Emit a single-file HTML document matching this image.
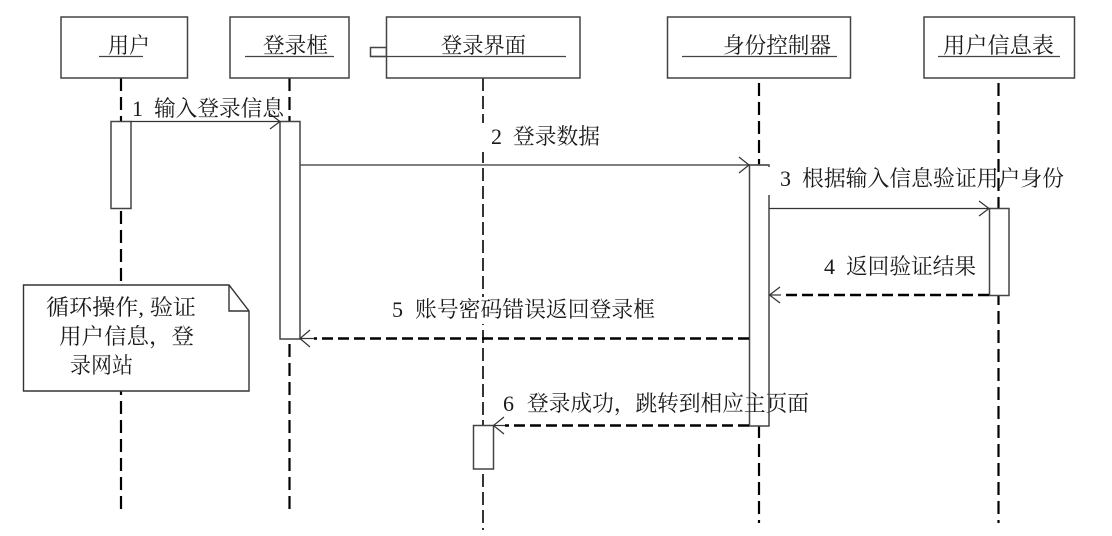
<!DOCTYPE html>
<html>
<head>
<meta charset="utf-8">
<style>
html,body{margin:0;padding:0;background:#fff;width:1112px;height:536px;overflow:hidden}
svg{display:block}
text{font-family:"Liberation Serif","Noto Serif CJK SC",serif;font-size:22px;fill:#1a1a1a}
.b{fill:#fff;stroke:#444;stroke-width:1.5}
.l{stroke:#000;stroke-width:2.2;stroke-dasharray:13 6;fill:none}
.t{stroke:#111;stroke-width:1.7;stroke-dasharray:13 5;fill:none}
.s{stroke:#333;stroke-width:1.2;fill:none}
.d{stroke:#000;stroke-width:2.4;stroke-dasharray:11 5;fill:none}
.u{stroke:#444;stroke-width:1.2}
.w{fill:#fff}
</style>
</head>
<body>
<svg width="1112" height="536" viewBox="0 0 1112 536" xmlns="http://www.w3.org/2000/svg">
<!-- lifelines -->
<line class="l" x1="121" y1="78" x2="121" y2="510"/>
<line class="l" x1="289.5" y1="78" x2="289.5" y2="510"/>
<line class="t" x1="483" y1="78" x2="483" y2="530"/>
<line class="l" x1="759" y1="83" x2="759" y2="523"/>
<line class="l" x1="998.5" y1="83" x2="998.5" y2="523"/>

<!-- header boxes -->
<rect class="b" x="61" y="17" width="126.5" height="61"/>
<rect class="b" x="230" y="17" width="119" height="61"/>
<rect class="b" x="370.5" y="47.5" width="16" height="9"/>
<rect class="b" x="386.5" y="17" width="193.5" height="61"/>
<rect class="b" x="667.5" y="17" width="183" height="61"/>
<rect class="b" x="924" y="17" width="150.5" height="61"/>
<line class="u" x1="99" y1="56.5" x2="143" y2="56.5"/>
<line class="u" x1="245" y1="56.5" x2="334" y2="56.5"/>
<line class="u" x1="370" y1="56.5" x2="566" y2="56.5"/>
<line class="u" x1="682" y1="56.5" x2="837" y2="56.5"/>
<line class="u" x1="938" y1="56.5" x2="1060" y2="56.5"/>
<text x="108" y="53" textLength="42" lengthAdjust="spacingAndGlyphs">用户</text>
<text x="263" y="53" textLength="65" lengthAdjust="spacingAndGlyphs">登录框</text>
<text x="441" y="53" textLength="85" lengthAdjust="spacingAndGlyphs">登录界面</text>
<text x="723" y="53" textLength="108" lengthAdjust="spacingAndGlyphs">身份控制器</text>
<text x="943" y="53" textLength="111" lengthAdjust="spacingAndGlyphs">用户信息表</text>

<!-- label backdrops cutting lifelines -->
<rect class="w" x="478" y="123" width="10" height="29"/>
<rect class="w" x="478" y="297" width="10" height="27"/>

<!-- activations -->
<rect class="b" x="111" y="121.5" width="20" height="87"/>
<rect class="b" x="280" y="121.5" width="20" height="217.5"/>
<rect class="b" x="749.5" y="165" width="19.5" height="261"/>
<rect class="b" x="989.5" y="208.5" width="19.5" height="87"/>
<rect class="b" x="473.5" y="425.5" width="20" height="43.5"/>

<!-- white backdrop of label 3 over activation top -->
<rect class="w" x="767" y="167" width="12" height="28"/>

<!-- messages -->
<line class="s" x1="131" y1="121.5" x2="280" y2="121.5"/>
<path class="s" d="M270 129 L280 121.5 L270 114"/>
<line x1="300" y1="165" x2="769" y2="165" stroke="#555" stroke-width="1.5"/>
<path class="s" d="M739 173 L749 165 L739 157"/>
<line class="s" x1="769" y1="208.5" x2="989" y2="208.5"/>
<path class="s" d="M979 216 L989 208.5 L979 201"/>
<line class="d" x1="989" y1="295" x2="781" y2="295"/>
<line class="s" x1="781" y1="295" x2="770" y2="295"/>
<path class="s" d="M780 303 L769.5 295 L780 287"/>
<line class="d" x1="749" y1="338.5" x2="314" y2="338.5"/>
<line class="s" x1="314" y1="338.5" x2="301" y2="338.5"/>
<path class="s" d="M310 347 L300 338.5 L310 330"/>
<line class="d" x1="749" y1="425.5" x2="505" y2="425.5"/>
<line class="s" x1="505" y1="425.5" x2="494" y2="425.5"/>
<path class="s" d="M504 434 L493.5 425.5 L504 417"/>

<!-- message labels -->
<text x="132" y="116">1</text>
<text x="154" y="116" textLength="130" lengthAdjust="spacingAndGlyphs">输入登录信息</text>
<text x="491" y="144">2</text>
<text x="513" y="144" textLength="87" lengthAdjust="spacingAndGlyphs">登录数据</text>
<text x="780" y="186">3</text>
<text x="802" y="186" textLength="262" lengthAdjust="spacingAndGlyphs">根据输入信息验证用户身份</text>
<text x="824" y="274">4</text>
<text x="846" y="274" textLength="130" lengthAdjust="spacingAndGlyphs">返回验证结果</text>
<text x="392" y="317">5</text>
<text x="415" y="317" textLength="240" lengthAdjust="spacingAndGlyphs">账号密码错误返回登录框</text>
<text x="503" y="411">6</text>
<text x="527" y="411" textLength="282" lengthAdjust="spacingAndGlyphs">登录成功，跳转到相应主页面</text>

<!-- note -->
<path d="M23.5 285 H229 L249 311 V391 H23.5 Z" fill="#fff" stroke="#333" stroke-width="1.4"/>
<path d="M229 285 V311 H249" fill="none" stroke="#333" stroke-width="1.4"/>
<text x="46" y="315" textLength="150" lengthAdjust="spacingAndGlyphs">循环操作, 验证</text>
<text x="59" y="344" textLength="135" lengthAdjust="spacingAndGlyphs">用户信息，登</text>
<text x="70" y="373" textLength="63" lengthAdjust="spacingAndGlyphs">录网站</text>
</svg>
</body>
</html>
